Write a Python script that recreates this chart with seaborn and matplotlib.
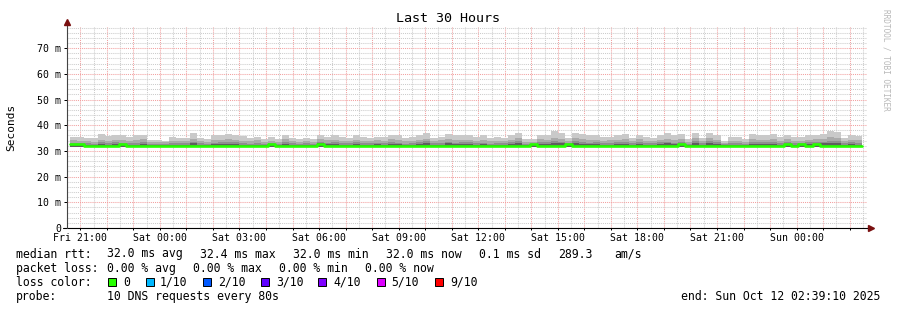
import numpy as np
import pandas as pd
import matplotlib
matplotlib.use("Agg")
import matplotlib.pyplot as plt
import seaborn as sns
from matplotlib.patches import Rectangle

# ---------------- data ----------------
title = "Last 30 Hours"
y_label = "Seconds"
view_start_h = 20 + 39 / 60 + 10 / 3600      # hours since Fri 00:00 (Fri 20:39:10)
view_hours = 30
first_bin_start_h = 20.6
bin_minutes = 16

x_tick_hours = [21, 24, 27, 30, 33, 36, 39, 42, 45, 48]
x_tick_labels = ["Fri 21:00", "Sat 00:00", "Sat 03:00", "Sat 06:00", "Sat 09:00",
                 "Sat 12:00", "Sat 15:00", "Sat 18:00", "Sat 21:00", "Sun 00:00"]
y_ticks = [0, 10, 20, 30, 40, 50, 60, 70]
y_tick_labels = ["0", "10 m", "20 m", "30 m", "40 m", "50 m", "60 m", "70 m"]
y_max = 78.6

smoke_floor = 31.6
# smoke layers (ms): outer (max ping) to inner
smoke_top = [35.5, 35.3, 35.1, 35.0, 36.6, 35.8, 36.0, 36.0, 35.5, 36.0, 36.0, 34.4, 34.4, 33.9, 35.5, 35.0, 35.2, 37.1, 35.0, 34.5, 36.0, 36.3, 36.6, 36.3, 35.8, 35.0, 35.5, 34.5,
             35.5, 34.5, 36.3, 35.0, 34.5, 35.0, 34.5, 36.3, 35.5, 36.0, 35.5, 35.0, 36.0, 35.5, 35.0, 35.5, 35.5, 36.3, 36.0, 35.0, 35.5, 36.0, 37.1, 35.0, 35.5, 36.6, 36.0, 36.0,
             36.0, 35.5, 36.0, 35.0, 35.5, 35.0, 36.0, 37.1, 34.8, 34.8, 36.3, 36.3, 37.6, 36.8, 35.0, 36.8, 36.6, 36.0, 36.0, 35.5, 35.5, 36.0, 36.6, 35.0, 36.3, 35.5, 35.0, 36.0,
             36.8, 36.0, 36.6, 34.5, 37.1, 35.0, 37.1, 36.0, 33.9, 35.3, 35.3, 34.5, 36.6, 36.3, 36.0, 36.6, 35.5, 36.3, 35.5, 35.5, 36.0, 36.3, 36.6, 37.8, 37.4, 35.0, 36.0, 35.8]
smoke_q2 = [34.2, 34.0, 33.8, 33.6, 34.4, 34.0, 34.3, 34.1, 33.8, 34.2, 34.5, 33.4, 33.5, 33.3, 34.0, 33.8, 34.0, 34.6, 33.9, 33.5, 34.2, 34.4, 34.6, 34.3, 34.0, 33.7, 34.1, 33.5,
            34.0, 33.5, 34.5, 33.8, 33.6, 33.9, 33.5, 34.6, 34.1, 34.3, 34.0, 33.7, 34.4, 34.0, 33.8, 34.2, 34.0, 34.6, 34.2, 33.7, 34.0, 34.3, 34.8, 33.8, 34.1, 34.7, 34.2, 34.3,
            34.3, 34.0, 34.2, 33.7, 34.0, 33.8, 34.4, 35.0, 33.6, 33.5, 34.5, 34.3, 35.2, 34.8, 33.8, 34.9, 34.6, 34.2, 34.4, 34.0, 34.1, 34.3, 34.6, 33.8, 34.5, 34.0, 33.8, 34.3,
            34.8, 34.2, 34.6, 33.5, 35.0, 33.9, 34.9, 34.3, 33.2, 34.0, 33.9, 33.5, 34.7, 34.4, 34.3, 34.6, 34.0, 34.5, 34.0, 33.9, 34.3, 34.6, 34.8, 35.3, 35.0, 33.8, 34.3, 34.1]
smoke_q3 = [33.2, 33.0, 32.9, 32.8, 33.3, 33.1, 33.4, 33.2, 32.9, 33.2, 33.5, 32.7, 32.8, 32.6, 33.0, 32.9, 33.1, 33.5, 32.9, 32.7, 33.2, 33.3, 33.5, 33.3, 33.1, 32.8, 33.1, 32.7,
            33.1, 32.7, 33.4, 32.9, 32.8, 33.0, 32.7, 33.5, 33.1, 33.3, 33.0, 32.9, 33.3, 33.1, 32.9, 33.2, 33.1, 33.5, 33.2, 32.8, 33.1, 33.3, 33.7, 32.9, 33.1, 33.6, 33.2, 33.3,
            33.3, 33.0, 33.2, 32.8, 33.1, 32.9, 33.4, 33.8, 32.8, 32.7, 33.4, 33.3, 33.9, 33.6, 32.9, 33.7, 33.5, 33.2, 33.3, 33.0, 33.1, 33.3, 33.5, 32.9, 33.4, 33.0, 32.9, 33.3,
            33.6, 33.2, 33.5, 32.7, 33.8, 33.0, 33.7, 33.3, 32.6, 33.0, 33.0, 32.7, 33.6, 33.3, 33.3, 33.5, 33.0, 33.4, 33.0, 32.9, 33.3, 33.5, 33.6, 34.0, 33.8, 32.9, 33.3, 33.1]
smoke_q4 = [32.5, 32.4, 32.3, 32.3, 32.6, 32.4, 32.7, 32.5, 32.3, 32.4, 32.8, 32.3, 32.3, 32.2, 32.4, 32.3, 32.4, 32.9, 32.3, 32.2, 32.5, 32.6, 32.7, 32.5, 32.4, 32.3, 32.4, 32.2,
            32.4, 32.2, 32.7, 32.3, 32.3, 32.4, 32.2, 32.9, 32.5, 32.6, 32.4, 32.3, 32.6, 32.4, 32.3, 32.5, 32.4, 32.8, 32.5, 32.3, 32.4, 32.6, 33.0, 32.3, 32.4, 32.9, 32.5, 32.6,
            32.6, 32.4, 32.5, 32.3, 32.4, 32.3, 32.7, 33.1, 32.3, 32.2, 32.7, 32.6, 33.2, 32.9, 32.3, 33.0, 32.8, 32.5, 32.6, 32.4, 32.4, 32.6, 32.8, 32.3, 32.7, 32.4, 32.3, 32.6,
            32.9, 32.5, 32.8, 32.2, 33.0, 32.4, 32.9, 32.6, 32.2, 32.4, 32.4, 32.2, 32.8, 32.6, 32.6, 32.8, 32.4, 32.7, 32.4, 32.3, 32.6, 32.8, 32.9, 33.2, 33.0, 32.3, 32.6, 32.4]
median_rtt = [32.5, 32.5, 32.0, 32.0, 32.0, 32.0, 32.0, 32.5, 32.0, 32.0, 32.0, 32.0, 32.0, 32.0, 32.0, 32.0, 32.0, 32.0, 32.0, 32.0, 32.0, 32.0, 32.0, 32.0, 32.0, 32.0, 32.0, 32.0,
              32.5, 32.0, 32.0, 32.0, 32.0, 32.0, 32.0, 32.5, 32.0, 32.0, 32.0, 32.0, 32.0, 32.0, 32.0, 32.0, 32.0, 32.0, 32.0, 32.0, 32.0, 32.0, 32.0, 32.0, 32.0, 32.0, 32.0, 32.0,
              32.0, 32.0, 32.0, 32.0, 32.0, 32.0, 32.0, 32.0, 32.0, 32.5, 32.0, 32.0, 32.0, 32.0, 32.5, 32.0, 32.0, 32.0, 32.0, 32.0, 32.0, 32.0, 32.0, 32.0, 32.0, 32.0, 32.0, 32.0,
              32.0, 32.0, 32.5, 32.0, 32.0, 32.0, 32.0, 32.0, 32.0, 32.0, 32.0, 32.0, 32.0, 32.0, 32.0, 32.0, 32.0, 32.5, 32.0, 32.5, 32.0, 32.5, 32.0, 32.0, 32.0, 32.0, 32.0, 32.0]

smoke_colors = ["#c9c9c9", "#aaaaaa", "#8e8e8e", "#5e5e5e"]
median_color = "#26ff00"

loss_labels = ["0", "1/10", "2/10", "3/10", "4/10", "5/10", "9/10"]
loss_colors = ["#26ff00", "#00b8ff", "#0059ff", "#5e00ff", "#7e00ff", "#dd00ff", "#ff0000"]

legend_rows = [
    [("median rtt:", 16), ("32.0 ms avg", 107), ("32.4 ms max", 200), ("32.0 ms min", 293),
     ("32.0 ms now", 386), ("0.1 ms sd", 479), ("289.3", 558), ("am/s", 614)],
    [("packet loss:", 16), ("0.00 % avg", 107), ("0.00 % max", 193), ("0.00 % min", 279),
     ("0.00 % now", 365)],
    [("loss color:", 16)],
    [("probe:", 16), ("10 DNS requests every 80s", 107)],
]
end_text = "end: Sun Oct 12 02:39:10 2025"

# ---------------- figure ----------------
sns.set_theme(style="white")
plt.rcParams["font.family"] = ["DejaVu Sans Mono", "DejaVu Sans"]

W, H = 897, 310
fig = plt.figure(figsize=(W / 100, H / 100), dpi=100)
fig.patch.set_facecolor("white")
ax_left, ax_right, ax_bottom, ax_top = 67, 867, 228, 26
ax = fig.add_axes([ax_left / W, 1 - ax_bottom / H, (ax_right - ax_left) / W, (ax_bottom - ax_top) / H])
ax.set_facecolor("white")

n = len(smoke_top)
edges = first_bin_start_h + np.arange(n + 1) * bin_minutes / 60.0

def ext(v):
    return list(v) + [v[-1]]

for vals, col in zip([smoke_top, smoke_q2, smoke_q3, smoke_q4], smoke_colors):
    ax.fill_between(edges, smoke_floor, ext(vals), step="post", color=col, linewidth=0, zorder=2)

df = pd.DataFrame({"t": edges, "rtt": ext(median_rtt)})
sns.lineplot(data=df, x="t", y="rtt", ax=ax, drawstyle="steps-post", color=median_color,
             linewidth=1.9, legend=False, zorder=3)

ax.set_xlim(view_start_h, view_start_h + view_hours)
ax.set_ylim(0, y_max)

# grid
major_x = list(range(21, 51))
minor_x = [h + 0.5 for h in range(20, 51)]
ax.set_xticks(major_x)
ax.set_xticklabels([x_tick_labels[x_tick_hours.index(h)] if h in x_tick_hours else "" for h in major_x])
ax.set_xticks(minor_x, minor=True)
ax.set_yticks(y_ticks)
ax.set_yticklabels(y_tick_labels)
ax.set_yticks(list(range(2, 79, 2)), minor=True)
ax.grid(which="major", color="#f2a0a0", linestyle=(0, (1, 1)), linewidth=0.75, zorder=0)
ax.grid(which="minor", color="#cccccc", linestyle=(0, (1, 1)), linewidth=0.75, zorder=0)
ax.set_axisbelow(True)
ax.tick_params(which="major", axis="y", length=2.2, width=0.72, color="black", pad=2.2,
               labelsize=7.1, labelcolor="black", left=True)
ax.tick_params(which="major", axis="x", length=1.5, width=0.72, color="black", pad=1.8,
               labelsize=7.1, labelcolor="black", bottom=True)
ax.tick_params(which="minor", length=0)
ax.set_xlabel("")
ax.set_ylabel("")
for s in ax.spines.values():
    s.set_visible(False)

# axis lines with arrows
axw = ax_right - ax_left
axh = ax_bottom - ax_top
ax.plot([(63 - ax_left) / axw, (870 - ax_left) / axw], [0, 0], transform=ax.transAxes,
        color="black", lw=0.8, clip_on=False, zorder=5)
ax.plot([0, 0], [0, (ax_bottom - 24) / axh], transform=ax.transAxes,
        color="#444444", lw=0.8, clip_on=False, zorder=5)
ax.plot([(871 - ax_left) / axw], [0], marker=">", markersize=4, color="#7a1010",
        transform=ax.transAxes, clip_on=False, zorder=6)
ax.plot([0], [(ax_bottom - 22) / axh], marker="^", markersize=4, color="#7a1010",
        transform=ax.transAxes, clip_on=False, zorder=6)

# titles
fig.text(448 / W, 1 - 19 / H, title, ha="center", va="center", fontsize=9.6, color="black")
fig.text(11 / W, 1 - 127 / H, y_label, ha="center", va="center", rotation=90, fontsize=8, color="black")
fig.text(886 / W, 1 - 60 / H, "RRDTOOL / TOBI OETIKER", ha="center", va="center", rotation=270,
         fontsize=5.6, color="#b8b8b8")

# legend
row_y = [254, 268.3, 282.3, 296.7]
for row, y in zip(legend_rows, row_y):
    for txt, x in row:
        fig.text(x / W, 1 - y / H, txt, ha="left", va="center", fontsize=8.3, color="black")
box_x = [108, 146, 203, 261, 318, 377, 435]
lab_x = [123, 160, 218, 276, 333, 391, 450]
for bx, lx, lab, col in zip(box_x, lab_x, loss_labels, loss_colors):
    fig.add_artist(Rectangle((bx / W, 1 - 286 / H), 8 / W, 8 / H, transform=fig.transFigure,
                             facecolor=col, edgecolor="black", linewidth=0.7))
    fig.text(lx / W, 1 - row_y[2] / H, lab, ha="left", va="center", fontsize=8.3, color="black")
fig.text(880 / W, 1 - row_y[3] / H, end_text, ha="right", va="center", fontsize=8.3, color="black")

fig.savefig("out.png", dpi=100, facecolor="white")
